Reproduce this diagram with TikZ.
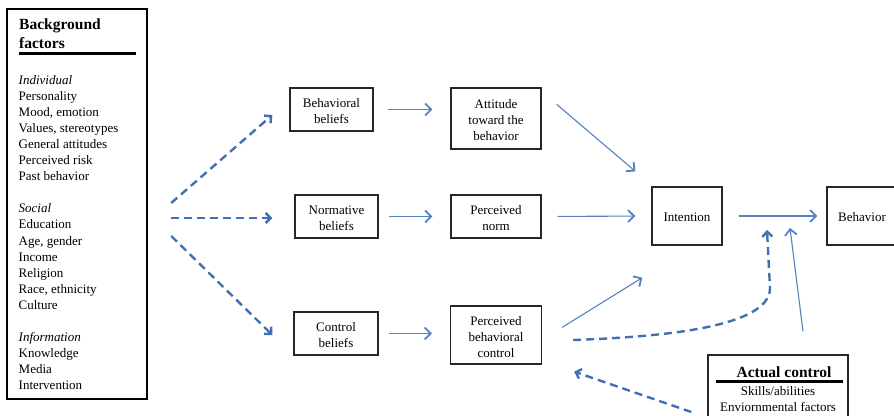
\documentclass[tikz,border=0pt]{standalone}
\usepackage{fontspec}
\setmainfont{Liberation Serif}
\usetikzlibrary{arrows.meta,calc}
\definecolor{arrblue}{RGB}{84,130,190}
\definecolor{dashblue}{RGB}{66,112,178}
\begin{document}
\begin{tikzpicture}[x=1pt,y=-1pt,
  box/.style={draw=black!85, line width=1.3pt, align=center, font=\fontsize{13}{16}\selectfont, inner sep=0pt},
  solidarr/.style={draw=arrblue, line width=1.1pt, -{Straight Barb[length=6pt,width=12pt,line width=1.8pt]}},
  dasharr/.style={draw=dashblue, line width=2.4pt, dash pattern=on 8pt off 5pt, -{Straight Barb[length=5pt,width=10pt]}},
  item/.style={anchor=base west, inner sep=0pt, font=\fontsize{13}{16}\selectfont},
  ctext/.style={anchor=base, inner sep=0pt, font=\fontsize{13}{16}\selectfont},
  boxtext/.style={anchor=center, inner sep=0pt, align=center, font=\fontsize{13}{16}\selectfont},
]
\useasboundingbox (0,0) rectangle (894,415);

% Background factors box
\node[draw=black, line width=2.4pt, minimum width=140pt, minimum height=390pt, inner sep=0pt] (bg) at (77,204) {};
\node[item, font=\fontsize{15.5}{18}\selectfont\bfseries] (bgt1) at (19,29) {Background};
\node[item, font=\fontsize{15.5}{18}\selectfont\bfseries] (bgt2) at (19,48) {factors};
\draw[line width=2.8pt] (19,53.5) -- (136,53.5);
\foreach \i/\t/\s in {0/Individual/\itshape, 1/Personality/, 2/{Mood, emotion}/, 3/{Values, stereotypes}/, 4/General attitudes/, 5/Perceived risk/, 6/Past behavior/,
  8/Social/\itshape, 9/Education/, 10/{Age, gender}/, 11/Income/, 12/Religion/, 13/{Race, ethnicity}/, 14/Culture/,
  16/Information/\itshape, 17/Knowledge/, 18/Media/, 19/Intervention/}
  \node[item] (li\i) at (18.5,84+16.1*\i) {\s\t};

% Main boxes
\node[box, minimum width=83pt, minimum height=43pt] (bb) at (331.5,109.5) {};
\node[box, minimum width=90pt, minimum height=61pt] (at) at (496,118.5) {};
\node[box, minimum width=83pt, minimum height=43pt] (nb) at (336.5,216.5) {};
\node[box, minimum width=90pt, minimum height=43pt] (pn) at (496,216.5) {};
\node[box, minimum width=84pt, minimum height=43pt] (cb) at (336,333.5) {};
\node[box, minimum width=91pt, minimum height=58pt] (pbc) at (496,335) {};
\node[box, minimum width=70pt, minimum height=58pt] (int) at (687,216) {};
\node[box, minimum width=74pt, minimum height=58pt] (beh) at (864,216) {};
\node[boxtext] (bbt) at ([yshift=-2pt]bb.center) {Behavioral\\beliefs};
\node[boxtext] (att) at ([yshift=-2pt]at.center) {Attitude\\toward the\\behavior};
\node[boxtext] (nbt) at ([yshift=-2pt]nb.center) {Normative\\beliefs};
\node[boxtext] (pnt) at ([yshift=-2pt]pn.center) {Perceived\\norm};
\node[boxtext] (cbt) at ([yshift=-2pt]cb.center) {Control\\beliefs};
\node[boxtext] (pbct) at ([yshift=-2pt]pbc.center) {Perceived\\behavioral\\control};
\node[boxtext] (intt) at ([yshift=-1pt]int.center) {Intention};
\node[boxtext] (beht) at ([yshift=-1pt,xshift=-2pt]beh.center) {Behavior};

% Actual control box
\node[box, minimum width=140pt, minimum height=72pt] (ac) at (778,391) {};
\node[ctext, font=\fontsize{15.5}{18}\selectfont\bfseries] (act) at (784,377) {Actual control};
\draw[line width=2.6pt] (716,381.5) -- (843,381.5);
\node[ctext] (ac1) at (778,395.5) {Skills/abilities};
\node[ctext] (ac2) at (778,411) {Enviornmental factors};

\coordinate (ib) at ($(int.east)!0.5!(beh.west)$);

% Solid arrows
\draw[solidarr, shorten <=14pt, shorten >=18pt] (bb.east) -- (bb.east -| at.west);
\draw[solidarr, shorten <=10pt, shorten >=18pt] (nb.east) -- (nb.east -| pn.west);
\draw[solidarr, shorten <=10pt, shorten >=18pt] (cb.east) -- (cb.east -| pbc.west);
\draw[solidarr] ([xshift=15pt,yshift=-17pt]at.north east) -- ([xshift=-16pt,yshift=15pt]int.north west);
\draw[solidarr, shorten <=16pt, shorten >=16pt] (pn.east) -- (int.west);
\draw[solidarr] ([xshift=20pt,yshift=-22pt]pbc.north east) -- ([xshift=-9pt,yshift=-32pt]int.south west);
\draw[solidarr, shorten <=16pt, shorten >=9pt] (int.east) -- (beh.west);
\draw[solidarr] ([xshift=25pt,yshift=23pt]ac.north) -- ([xshift=15.5pt,yshift=-12pt]ib);

% Dashed arrows
\draw[dasharr] ([xshift=23pt,yshift=1pt]bg.east) -- ([xshift=-17pt,yshift=-5.5pt]bb.west);
\draw[dasharr] ([xshift=23pt,yshift=-14pt]bg.east) -- ([xshift=-22pt,yshift=-1.5pt]nb.west);
\draw[dasharr] ([xshift=23pt,yshift=-32pt]bg.east) -- ([xshift=-21pt,yshift=-1.5pt]cb.west);
\draw[dasharr] ([xshift=31pt,yshift=-5pt]pbc.east) .. controls (690,336) and (770,322) .. (770,288) -- ([xshift=-7.5pt,yshift=-14pt]ib);
\draw[dasharr] ([xshift=-16pt,yshift=-21pt]ac.west) -- ([xshift=32pt,yshift=-7pt]pbc.south east);
\end{tikzpicture}
\end{document}
